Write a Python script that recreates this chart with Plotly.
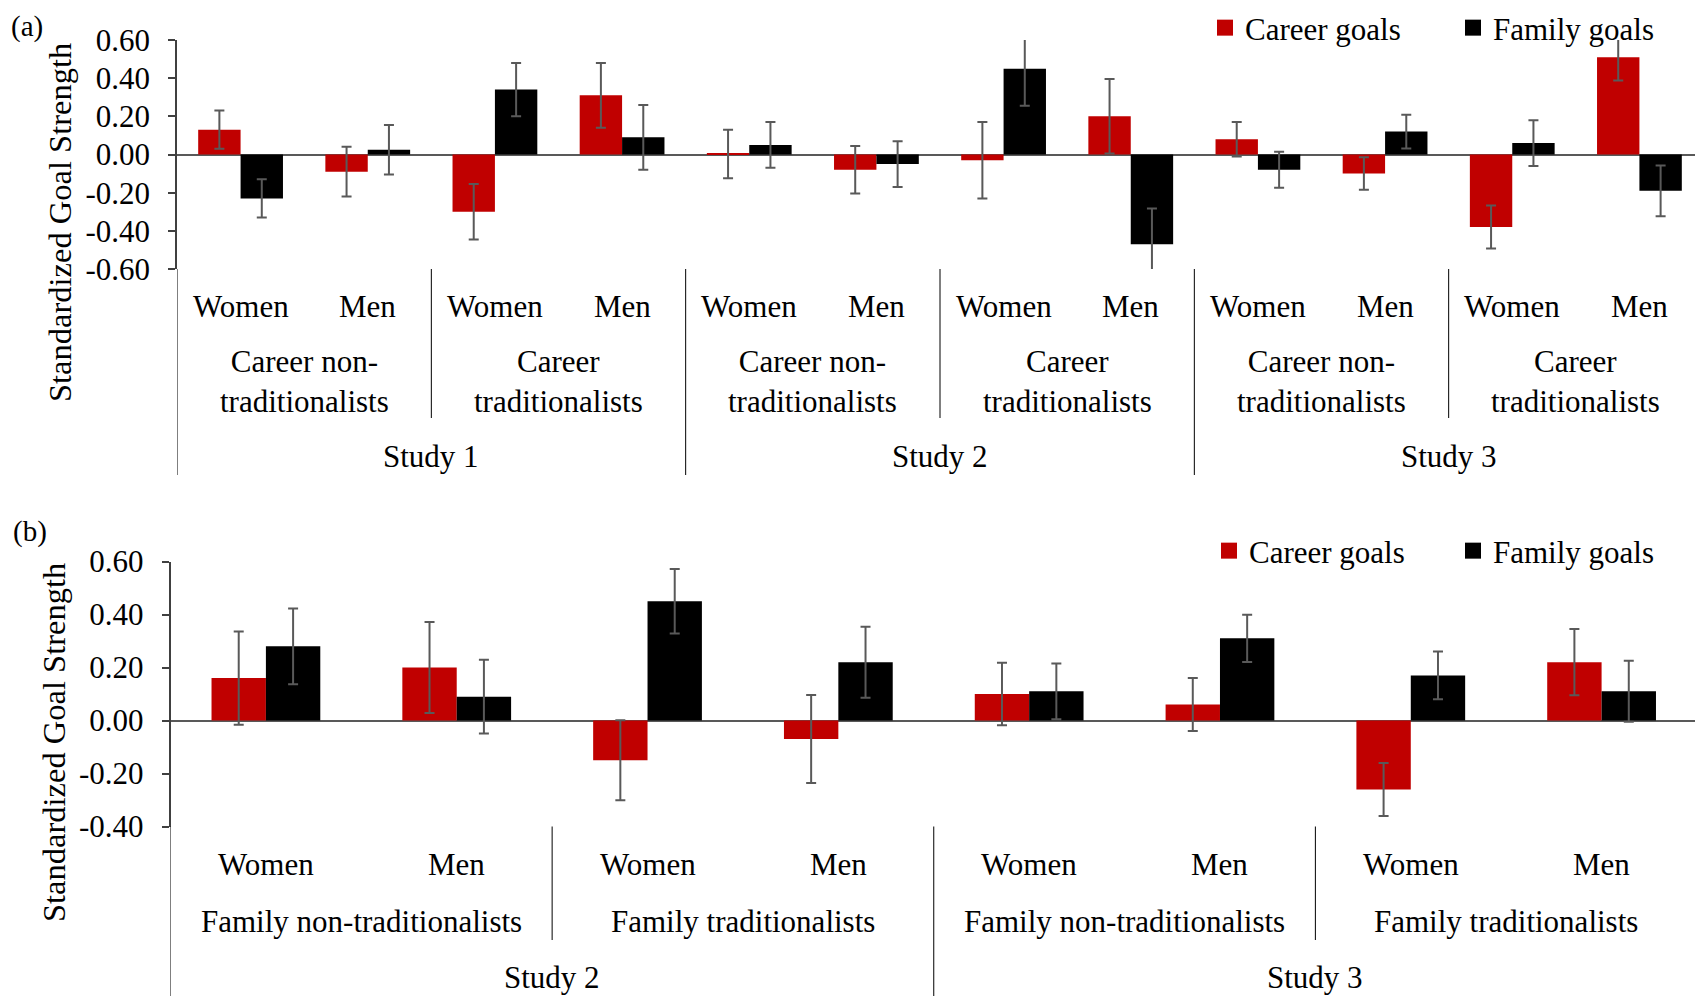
import plotly.graph_objects as go

# ---------------- data ----------------
genders = ["Women", "Men"]

# panel (a)
studies_a = ["Study 1", "Study 2", "Study 3"]
groups_a = ["Career non-<br>traditionalists", "Career<br>traditionalists"]
career_a = [0.13, -0.09, -0.30, 0.31, 0.003, -0.08, -0.03, 0.20, 0.08, -0.10, -0.38, 0.51]
career_a_err = [0.10, 0.13, 0.145, 0.17, 0.127, 0.125, 0.20, 0.195, 0.09, 0.085, 0.113, 0.122]
family_a = [-0.23, 0.025, 0.34, 0.09, 0.05, -0.05, 0.45, -0.47, -0.08, 0.12, 0.06, -0.19]
family_a_err = [0.10, 0.13, 0.14, 0.17, 0.12, 0.12, 0.195, 0.187, 0.094, 0.088, 0.12, 0.133]
yticks_a = [-0.6, -0.4, -0.2, 0.0, 0.2, 0.4, 0.6]

# panel (b)
studies_b = ["Study 2", "Study 3"]
groups_b = ["Family non-traditionalists", "Family traditionalists"]
career_b = [0.16, 0.20, -0.15, -0.07, 0.10, 0.06, -0.26, 0.22]
career_b_err = [0.176, 0.172, 0.151, 0.166, 0.118, 0.10, 0.10, 0.125]
family_b = [0.28, 0.09, 0.45, 0.22, 0.11, 0.31, 0.17, 0.11]
family_b_err = [0.143, 0.139, 0.122, 0.134, 0.105, 0.089, 0.09, 0.115]
yticks_b = [-0.4, -0.2, 0.0, 0.2, 0.4, 0.6]

series_names = ["Career goals", "Family goals"]
series_colors = ["#C00000", "#000000"]

# ---------------- layout constants ----------------
PAGE_W, PAGE_H = 1703, 996
OFF = 8                      # default body margin of the html page
W, H = PAGE_W - OFF, PAGE_H - OFF
FONT = "Liberation Serif"
FS = 31
ERRC = "#595959"


def px_(x):   # page pixel -> paper x
    return (x - OFF) / W


def py(y):    # page pixel -> paper y
    return 1 - (y - OFF) / H


fig = go.Figure()

xa = list(range(len(career_a)))
xb = list(range(len(career_b)))

BW_A = 1 / 3
BW_B = 0.285


def add_panel(xs, series, bw, xaxis, yaxis, legend):
    for k, (name, col, vals, errs) in enumerate(series):
        fig.add_trace(go.Bar(x=xs, y=vals, name=name, width=bw, offset=(-bw if k == 0 else 0),
                             marker=dict(color=col, line=dict(width=0)),
                             error_y=dict(type="data", array=errs, color=ERRC, thickness=2, width=5),
                             xaxis=xaxis, yaxis=yaxis, showlegend=False))
        # legend entry (square swatch)
        fig.add_trace(go.Scatter(x=[None], y=[None], mode="markers", name=name,
                                 marker=dict(symbol="square", size=16, color=col, line=dict(width=0)),
                                 xaxis=xaxis, yaxis=yaxis, legend=legend, showlegend=True))


add_panel(xa, [(series_names[0], series_colors[0], career_a, career_a_err),
               (series_names[1], series_colors[1], family_a, family_a_err)],
          BW_A, "x", "y", "legend")
add_panel(xb, [(series_names[0], series_colors[0], career_b, career_b_err),
               (series_names[1], series_colors[1], family_b, family_b_err)],
          BW_B, "x2", "y2", "legend2")

# plot areas in page pixels
a_left, a_right, a_top, a_bot = 177, 1703, 40, 269
b_left, b_right, b_top, b_bot = 170.5, 1697, 561.5, 826.5

axis_common = dict(showgrid=False, zeroline=False, showticklabels=False, ticks="", showline=False)
yaxis_common = dict(showgrid=False, zeroline=True, zerolinecolor=ERRC, zerolinewidth=2,
                    showline=True, linecolor="#404040", linewidth=1.5, ticks="outside",
                    ticklen=7, tickcolor="#404040", tickwidth=1.5,
                    tickfont=dict(family=FONT, size=FS, color="black"), ticklabelstandoff=12)

fig.update_layout(
    width=W, height=H, margin=dict(l=0, r=0, t=0, b=0, pad=0, autoexpand=False),
    paper_bgcolor="white", plot_bgcolor="white",
    barmode="group",
    font=dict(family=FONT, size=FS, color="black"),
    xaxis=dict(domain=[px_(a_left), min(1, px_(a_right))], range=[-0.5, len(xa) - 0.5], anchor="y", **axis_common),
    yaxis=dict(domain=[py(a_bot), py(a_top)], range=[-0.6, 0.6], anchor="x",
               tickvals=yticks_a, ticktext=[f"{v:.2f}" for v in yticks_a], **yaxis_common),
    xaxis2=dict(domain=[px_(b_left), px_(b_right)], range=[-0.5, len(xb) - 0.5], anchor="y2", **axis_common),
    yaxis2=dict(domain=[py(b_bot), py(b_top)], range=[-0.4, 0.6], anchor="x2",
                tickvals=yticks_b, ticktext=[f"{v:.2f}" for v in yticks_b], **yaxis_common),
    legend=dict(orientation="h", x=px_(1205), xanchor="left", y=py(28), yanchor="middle",
                font=dict(family=FONT, size=FS), bgcolor="rgba(0,0,0,0)",
                entrywidth=203, entrywidthmode="pixels", traceorder="normal"),
    legend2=dict(orientation="h", x=px_(1209), xanchor="left", y=py(551), yanchor="middle",
                 font=dict(family=FONT, size=FS), bgcolor="rgba(0,0,0,0)",
                 entrywidth=199, entrywidthmode="pixels", traceorder="normal"),
)

annotations = []
shapes = []

# panel labels
annotations.append(dict(text="(a)", x=px_(9), y=py(OFF), xref="paper", yref="paper", xanchor="left",
                        yanchor="top", showarrow=False, font=dict(family=FONT, size=29)))
annotations.append(dict(text="(b)", x=px_(11), y=py(531), xref="paper", yref="paper", xanchor="left",
                        yanchor="middle", showarrow=False, font=dict(family=FONT, size=29)))

# y-axis titles
for yc, xc in [(223, 60), (743, 54)]:
    annotations.append(dict(text="Standardized Goal Strength", x=px_(xc), y=py(yc), xref="paper", yref="paper",
                            xanchor="center", yanchor="middle",
                            textangle=-90, showarrow=False, font=dict(family=FONT, size=32.5)))


def hier(xref, studies, groups, n_total, y_gender, y_group, y_study, y_axisbot, y_inner_end, y_outer_end):
    per_study = len(groups) * len(genders)
    for i in range(n_total):
        annotations.append(dict(text=genders[i % 2], x=i, y=py(y_gender), xref=xref, yref="paper",
                                xanchor="center", yanchor="middle",
                                showarrow=False, font=dict(family=FONT, size=FS)))
    for s in range(len(studies)):
        for g in range(len(groups)):
            c = s * per_study + g * 2 + 0.5
            annotations.append(dict(text=groups[g], x=c, y=py(y_group), xref=xref, yref="paper",
                                    xanchor="center", yanchor="middle",
                                    showarrow=False, font=dict(family=FONT, size=FS)))
            if g > 0:
                xs = s * per_study + g * 2 - 0.5
                shapes.append(dict(type="line", xref=xref, yref="paper", x0=xs, x1=xs,
                                   y0=py(y_axisbot), y1=py(y_inner_end), line=dict(color="black", width=1)))
        c = s * per_study + (per_study - 1) / 2
        annotations.append(dict(text=studies[s], x=c, y=py(y_study), xref=xref, yref="paper",
                                xanchor="center", yanchor="middle",
                                showarrow=False, font=dict(family=FONT, size=FS)))
    for s in range(len(studies) + 1):
        xs = s * per_study - 0.5
        shapes.append(dict(type="line", xref=xref, yref="paper", x0=xs, x1=xs,
                           y0=py(y_axisbot), y1=py(y_outer_end), line=dict(color="black", width=1)))


hier("x", studies_a, groups_a, len(xa), 307, 382, 456, a_bot, 418, 475)
hier("x2", studies_b, groups_b, len(xb), 864.5, 921, 977.5, b_bot, 940, 996)

fig.update_layout(annotations=annotations, shapes=shapes)
fig.write_html("out.html")
